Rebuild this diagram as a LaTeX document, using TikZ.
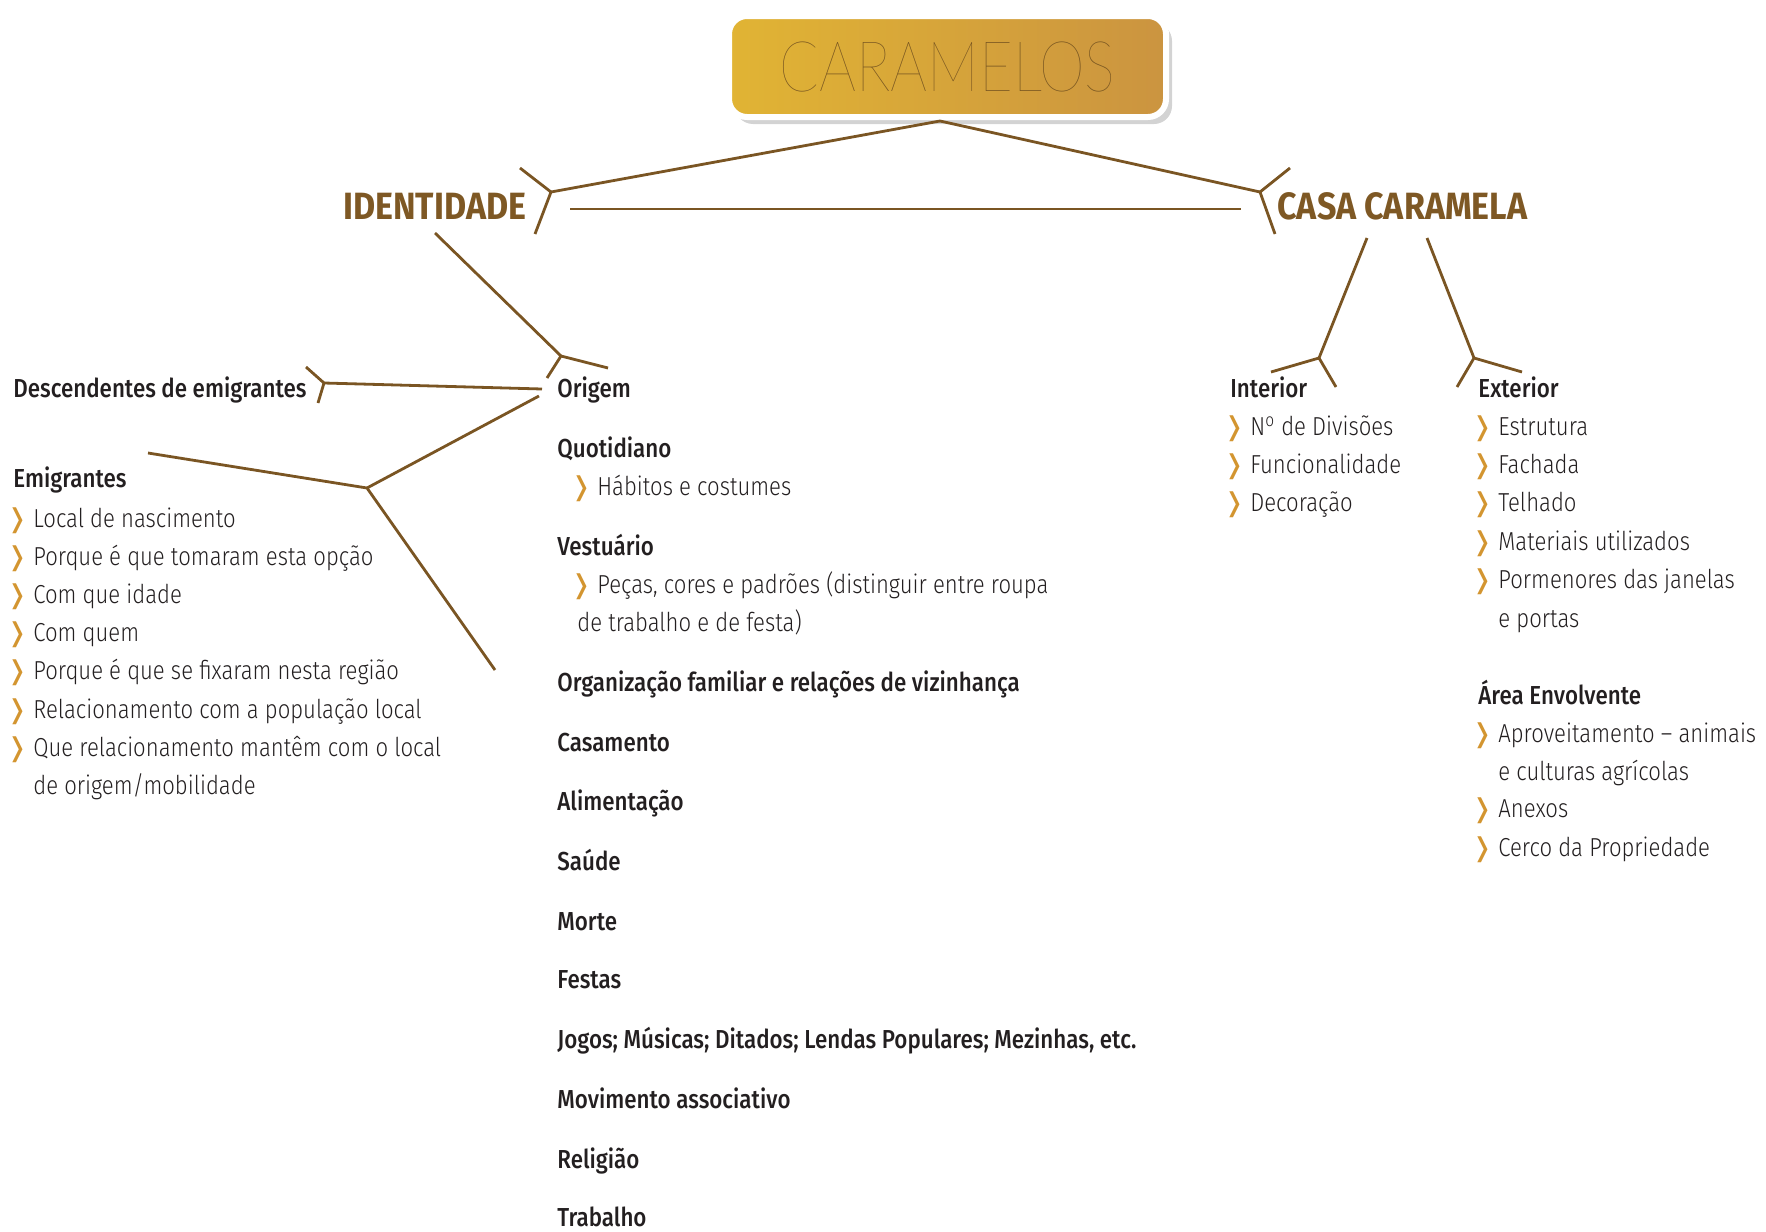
\documentclass[tikz,border=0pt]{standalone}
\usepackage{fontspec}
\setmainfont{Fira Sans}[UprightFont=* Light, BoldFont=* Medium,
  UprightFeatures={FakeStretch=0.85}, BoldFeatures={FakeStretch=0.86}]
\newfontfamily\headfont{Fira Sans}[UprightFont=* Bold, FakeStretch=0.895]
\newfontfamily\hairfont{Lato Hairline}[FakeStretch=0.83]
\newfontfamily\bulfont{DejaVu Sans}
\usetikzlibrary{positioning,shadows}
\definecolor{linebrown}{HTML}{7A5523}
\definecolor{headbrown}{HTML}{7E5824}
\definecolor{textdark}{HTML}{231F20}
\definecolor{bulgold}{HTML}{D39530}
\definecolor{goldL}{HTML}{E1B434}
\definecolor{goldR}{HTML}{CB9440}
\definecolor{caramel}{HTML}{765420}
\tikzset{
  conn/.style    ={draw=linebrown, line width=1.4pt},
  titlebox/.style={draw=white, line width=3pt, rounded corners=9pt, left color=goldL, right color=goldR,
                   minimum width=218.5pt, minimum height=50.5pt, inner sep=0pt,
                   drop shadow={shadow xshift=3pt, shadow yshift=-3.5pt, opacity=.35},
                   font=\hairfont\fontsize{35}{35}\selectfont, text=caramel},
  head/.style    ={anchor=base west, inner sep=0pt, font=\headfont\fontsize{19}{19}\selectfont, text=headbrown},
  topic/.style   ={anchor=base west, inner sep=0pt, font=\bfseries\fontsize{13}{13}\selectfont, text=textdark},
  item/.style    ={anchor=base west, inner sep=0pt, font=\fontsize{13}{13}\selectfont, text=textdark},
  bul/.style     ={anchor=base east, inner sep=0pt, xshift=-2.2pt, font=\bulfont\fontsize{13}{13}\selectfont, text=bulgold},
}

\begin{document}
\begin{tikzpicture}[x=0.5pt, y=-0.5pt]
  \useasboundingbox (0,0) rectangle (1766,1231);

  % title and the two main branches
  \node[titlebox] (top) at (947.5,66.5) {CARAMELOS};
  \node[head] (ident) at (343,219) {IDENTIDADE};
  \node[head] (casa) at (1277,219) {CASA CARAMELA};

  % left column
  \node[topic] (desc) at (13,397) {Descendentes de emigrantes};
  \node[topic] (emig) at (13,487) {Emigrantes};
  \node[item] (e1) at (33,527) {Local de nascimento};
  \node[item] (e2) at (33,565) {Porque é que tomaram esta opção};
  \node[item] (e3) at (33,603) {Com que idade};
  \node[item] (e4) at (33,641) {Com quem};
  \node[item] (e5) at (33,679) {Porque é que se fixaram nesta região};
  \node[item] (e6) at (33,718) {Relacionamento com a população local};
  \node[item] (e7) at (33,756) {Que relacionamento mantêm com o local};
  \node[item] (e8) at (33,794) {de origem/mobilidade};
  \node[bul] (be1) at (e1.base west) {❭};
  \node[bul] (be2) at (e2.base west) {❭};
  \node[bul] (be3) at (e3.base west) {❭};
  \node[bul] (be4) at (e4.base west) {❭};
  \node[bul] (be5) at (e5.base west) {❭};
  \node[bul] (be6) at (e6.base west) {❭};
  \node[bul] (be7) at (e7.base west) {❭};

  % middle column
  \node[topic] (orig) at (557,397) {Origem};
  \node[topic] (quot) at (557,457) {Quotidiano};
  \node[item] (q1) at (597,495) {Hábitos e costumes};
  \node[bul] (bq1) at (q1.base west) {❭};
  \node[topic] (vest) at (557,555) {Vestuário};
  \node[item] (v1) at (597,593) {Peças, cores e padrões (distinguir entre roupa};
  \node[bul] (bv1) at (v1.base west) {❭};
  \node[item] (v2) at (577,631) {de trabalho e de festa)};
  \node[topic] (org) at (557,691) {Organização familiar e relações de vizinhança};
  \node[topic] (cas) at (557,751) {Casamento};
  \node[topic] (alim) at (557,810) {Alimentação};
  \node[topic] (sau) at (557,870) {Saúde};
  \node[topic] (mor) at (557,930) {Morte};
  \node[topic] (fes) at (557,988) {Festas};
  \node[topic] (jog) at (557,1048) {Jogos; Músicas; Ditados; Lendas Populares; Mezinhas, etc.};
  \node[topic] (mov) at (557,1108) {Movimento associativo};
  \node[topic] (rel) at (557,1168) {Religião};
  \node[topic] (trab) at (557,1226) {Trabalho};

  % right columns
  \node[topic] (int) at (1230,397) {Interior};
  \node[item] (i1) at (1250,435) {N\textsuperscript{o} de Divisões};
  \node[item] (i2) at (1250,473) {Funcionalidade};
  \node[item] (i3) at (1250,511) {Decoração};
  \node[bul] (bi1) at (i1.base west) {❭};
  \node[bul] (bi2) at (i2.base west) {❭};
  \node[bul] (bi3) at (i3.base west) {❭};

  \node[topic] (ext) at (1478,397) {Exterior};
  \node[item] (x1) at (1498,435) {Estrutura};
  \node[item] (x2) at (1498,473) {Fachada};
  \node[item] (x3) at (1498,511) {Telhado};
  \node[item] (x4) at (1498,550) {Materiais utilizados};
  \node[item] (x5) at (1498,588) {Pormenores das janelas};
  \node[item] (x6) at (1498,627) {e portas};
  \node[bul] (bx1) at (x1.base west) {❭};
  \node[bul] (bx2) at (x2.base west) {❭};
  \node[bul] (bx3) at (x3.base west) {❭};
  \node[bul] (bx4) at (x4.base west) {❭};
  \node[bul] (bx5) at (x5.base west) {❭};

  \node[topic] (area) at (1478,704) {Área Envolvente};
  \node[item] (a1) at (1498,742) {Aproveitamento – animais};
  \node[item] (a2) at (1498,780) {e culturas agrícolas};
  \node[item] (a3) at (1498,817) {Anexos};
  \node[item] (a4) at (1498,856) {Cerco da Propriedade};
  \node[bul] (ba1) at (a1.base west) {❭};
  \node[bul] (ba3) at (a3.base west) {❭};
  \node[bul] (ba4) at (a4.base west) {❭};

  % fork points
  \coordinate (tb) at (940,121);
  \coordinate (fi) at (551,192);   \coordinate (fi1) at (520,168);  \coordinate (fi2) at (535,234);
  \coordinate (fc) at (1260,192);  \coordinate (fc1) at (1290,168); \coordinate (fc2) at (1275,234);
  \coordinate (hl) at (570,209);   \coordinate (hr) at (1241,209);
  \coordinate (so) at (435,233);
  \coordinate (fo) at (561,356);   \coordinate (fo1) at (608,368);  \coordinate (fo2) at (547,378);
  \coordinate (sd) at (542,389);
  \coordinate (fd) at (324,383);   \coordinate (fd1) at (306,367);  \coordinate (fd2) at (318,403);
  \coordinate (se) at (539,396);
  \coordinate (fe) at (367,488);   \coordinate (fe1) at (148,453);  \coordinate (fe2) at (495,670);
  \coordinate (si) at (1367,238);
  \coordinate (fn) at (1319,358);  \coordinate (fn1) at (1271,372); \coordinate (fn2) at (1336,387);
  \coordinate (sx) at (1427,238);
  \coordinate (fx) at (1474,358);  \coordinate (fx1) at (1522,372); \coordinate (fx2) at (1457,387);

  % connectors
  \draw[conn] (tb) -- (fi);
  \draw[conn] (tb) -- (fc);
  \draw[conn] (fi1) -- (fi) -- (fi2);
  \draw[conn] (fc1) -- (fc) -- (fc2);
  \draw[conn] (hl) -- (hr);
  \draw[conn] (so) -- (fo);
  \draw[conn] (fo1) -- (fo) -- (fo2);
  \draw[conn] (sd) -- (fd);
  \draw[conn] (fd1) -- (fd) -- (fd2);
  \draw[conn] (se) -- (fe);
  \draw[conn] (fe1) -- (fe) -- (fe2);
  \draw[conn] (si) -- (fn);
  \draw[conn] (fn1) -- (fn) -- (fn2);
  \draw[conn] (sx) -- (fx);
  \draw[conn] (fx1) -- (fx) -- (fx2);
\end{tikzpicture}
\end{document}
